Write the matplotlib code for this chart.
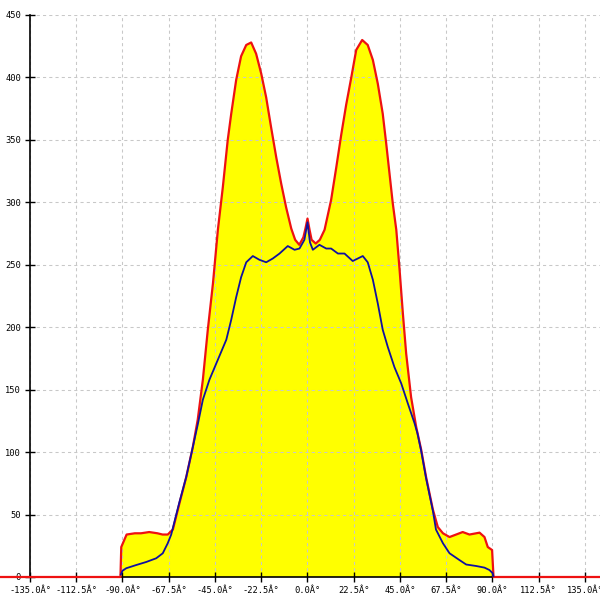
import matplotlib
matplotlib.use("Agg")
import matplotlib.pyplot as plt

# angle (deg) / value pairs
red_deg = [-180, -91, -90.6, -88, -84, -81, -77, -73, -70.5, -68,
           -65.5, -62.3, -59, -55.8, -53.4, -50.9, -48.5, -46, -43.6, -41.2,
           -38.8, -37.1, -34.7, -32.3, -29.8, -27.4, -25, -22.5, -20.1, -17.7,
           -15.2, -12.8, -10.4, -7.9, -6, -4, -2, -1, 0, 1,
           2, 4, 6, 8.3, 11.5, 14, 16.4, 18.8, 21.3, 23.7,
           26.6, 29.3, 31.8, 34.2, 36.6, 38.3, 39.9, 41.5, 43.2, 44.8,
           46.4, 48, 50.4, 52.9, 55.3, 57.7, 61, 63.4, 65.9, 69.1,
           72.3, 75.5, 78.8, 83.7, 86.1, 87.7, 89.8, 90.5, 180]
red_val = [0, 0, 24, 34, 35, 35, 36, 35, 34, 34,
           38, 59, 80, 104, 126, 158, 198, 235, 278, 312,
           350, 371, 398, 417, 426, 428, 419, 403, 384, 360,
           336, 315, 296, 279, 270, 266, 272, 279, 287, 278,
           270, 267, 270, 278, 302, 328, 354, 378, 400, 422,
           430, 426, 414, 395, 371, 347, 323, 299, 278, 246,
           211, 179, 144, 120, 102, 80, 54, 40, 35, 32,
           34, 36, 34, 35.5, 32, 24, 21.6, 0, 0]

blue_deg = [-90.8, -90, -88.2, -83.3, -78.5, -73.6, -70.4, -68, -66.3, -62.3,
            -59, -55.8, -53.4, -50.9, -47.7, -43.6, -39.5, -37.1, -34.7, -32.3,
            -29.8, -26.6, -23.4, -20.1, -16.9, -13.6, -9.6, -6.3, -3.9, -1.5,
            0, 1.2, 2.6, 5.8, 9.1, 11.5, 14.8, 18, 22, 26.9,
            29.3, 31.8, 34.2, 36.6, 39.1, 42.3, 45.6, 48.8, 52.1, 53.5,
            55.3, 57.7, 61, 62.5, 65.9, 69.1, 73.9, 77.2, 82.1, 86.1,
            88.5, 90.1, 90.5]
blue_val = [2, 5, 7, 9.6, 12, 15, 19, 27, 34, 60,
            80, 104, 122, 142, 158, 174, 190, 206, 224, 240,
            252, 257, 254, 252, 255, 259, 265, 262, 263, 270,
            284, 268, 262, 266, 263, 263, 259, 259, 253, 257,
            252, 238, 219, 198, 184, 168, 155, 139, 123, 115,
            101, 79, 53, 38, 27, 19, 13.6, 10, 8.8, 7.5,
            5.6, 3, 0]

x_ticks = [-135, -112.5, -90, -67.5, -45, -22.5, 0, 22.5, 45, 67.5, 90, 112.5, 135]
x_labels = ["%.1fÂ°" % t for t in x_ticks]
y_ticks = [0, 50, 100, 150, 200, 250, 300, 350, 400, 450]

fig = plt.figure(figsize=(6, 6), dpi=100)
ax = fig.add_axes([30 / 600, 23 / 600, 570 / 600, 562 / 600])

ax.fill_between(red_deg, red_val, 0, color="#ffff00", linewidth=0, zorder=0.2)
ax.plot(red_deg, red_val, color="#ee1111", linewidth=1.6, zorder=3, clip_on=False)
ax.plot(blue_deg, blue_val, color="#1010a0", linewidth=1.3, zorder=4)

ax.set_xlim(-135, 142.3)
ax.set_ylim(0, 450)

ax.set_axisbelow(True)
ax.grid(True, color="#c8c8c8", linestyle=(0, (3, 3)), linewidth=0.75)

for side in ["top", "right"]:
    ax.spines[side].set_visible(False)
for side in ["left", "bottom"]:
    ax.spines[side].set_color("black")
    ax.spines[side].set_linewidth(1.2)

ax.set_xticks(x_ticks)
ax.set_xticklabels(x_labels)
ax.set_yticks(y_ticks)
ax.set_yticklabels([str(v) for v in y_ticks])
ax.tick_params(direction="inout", length=7, width=1, colors="black",
               labelsize=6.3, pad=3)
for lab in ax.get_xticklabels() + ax.get_yticklabels():
    lab.set_family("DejaVu Sans Mono")

fig.savefig("out.png", dpi=100)
